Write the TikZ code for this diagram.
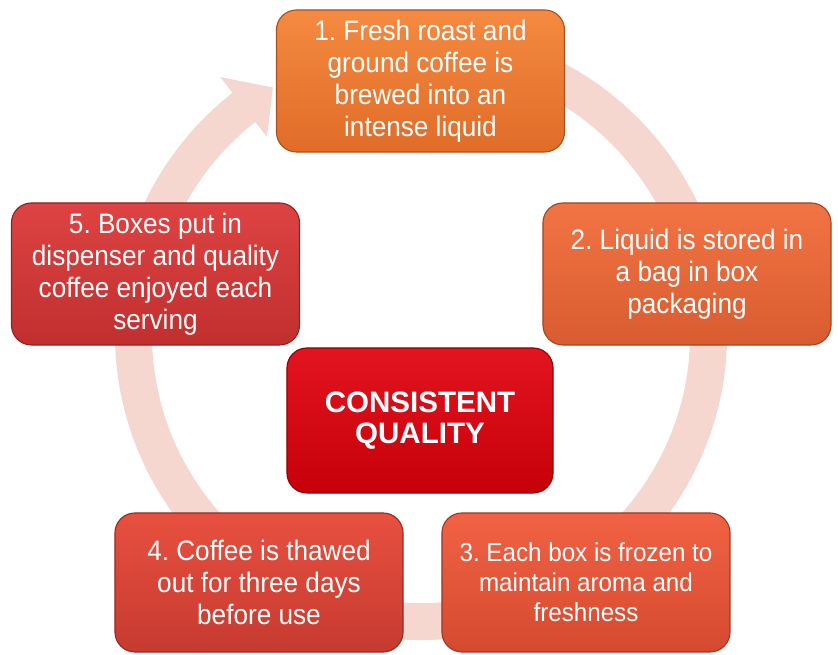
\documentclass[tikz,border=0pt]{standalone}
\usepackage{fontspec}
\setmainfont{Liberation Sans}[FakeStretch=0.93]
\newfontfamily\headfont{Liberation Sans}
\usetikzlibrary{positioning,calc}
\frenchspacing
\definecolor{ringpink}{HTML}{F5D7CF}
\definecolor{oneTop}{HTML}{F58A40}\definecolor{oneBot}{HTML}{E06C28}
\definecolor{twoTop}{HTML}{F27444}\definecolor{twoBot}{HTML}{D85C30}
\definecolor{threeTop}{HTML}{F26244}\definecolor{threeBot}{HTML}{D44A30}
\definecolor{fourTop}{HTML}{E8503F}\definecolor{fourBot}{HTML}{C63A30}
\definecolor{fiveTop}{HTML}{DE4343}\definecolor{fiveBot}{HTML}{C02F2E}
\definecolor{coreTop}{HTML}{E2141F}\definecolor{coreBot}{HTML}{C6000A}

\begin{document}
\begin{tikzpicture}[x=0.025cm, y=0.025cm,
    stepbox/.style={rounded corners=0.5cm, minimum width=7.2cm, minimum height=3.55cm,
      inner sep=0pt, text=white, align=center, font=\fontsize{20}{22.8}\selectfont},
    boxshade/.style 2 args={top color=#1, bottom color=#2, draw=#2!75!black, line width=0.8pt}]
  \useasboundingbox (0,0) rectangle (838,655);

  % cycle ring behind the boxes
  \coordinate (hub) at (421,321);
  \draw[ringpink, line width=0.925cm] ($(hub)+(95:7.1875cm)$)
    arc[start angle=95, end angle=-232.3, radius=7.1875cm];
  \fill[ringpink] ($(hub)+(128:8.15cm)$) -- ($(hub)+(121:7.1875cm)$)
    -- ($(hub)+(128:6.25cm)$) -- cycle;

  % the five steps
  \node[stepbox, boxshade={oneTop}{oneBot}] (brew) at (420.5,574)
    {1. Fresh roast and\\ground coffee is\\brewed into an\\intense liquid};
  \node[stepbox, boxshade={twoTop}{twoBot}] (store) at (687,381)
    {2. Liquid is stored in\\a bag in box\\packaging};
  \node[stepbox, boxshade={threeTop}{threeBot}, minimum height=3.475cm,
    font=\fontsize{18.5}{21.3}\selectfont] (freeze) at (586,72.5)
    {3. Each box is frozen to\\maintain aroma and\\freshness};
  \node[stepbox, boxshade={fourTop}{fourBot}, minimum height=3.475cm] (thaw) at (259,72.5)
    {4. Coffee is thawed\\out for three days\\before use};
  \node[stepbox, boxshade={fiveTop}{fiveBot}] (serve) at (155.5,381)
    {5. Boxes put in\\dispenser and quality\\coffee enjoyed each\\serving};

  % centre
  \node[stepbox, boxshade={coreTop}{coreBot}, minimum width=6.65cm, minimum height=3.625cm,
    font=\headfont\bfseries\fontsize{21}{21.5}\selectfont] (quality) at (420,234.5)
    {CONSISTENT\\QUALITY};
\end{tikzpicture}
\end{document}
